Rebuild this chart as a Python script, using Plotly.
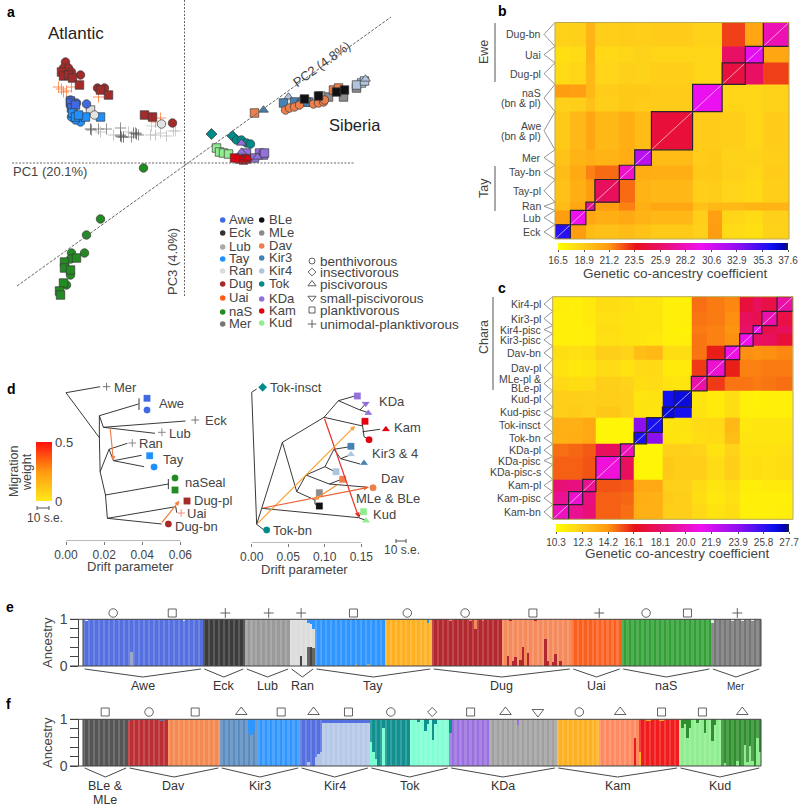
import plotly.graph_objects as go
from itertools import accumulate

W, H = 800, 806
TEXT = "#444444"
FONT = "Liberation Sans"

# ---- a: PCA scores (PC1, PC3), one list per population and feeding form
DUG_O = [(-119,101),(-121,95),(-116,95),(-113,91),(-104,88),(-87,75),(-80,75),(-12,40)]
DUG_S = [(-123,91),(-121,87),(-116,88),(-112,85),(-105,78),(-84,73),(-76,68),(-40,48),(-32,46)]
UAI_P = [(-123,74),(-121,71),(-126,76),(-86,66),(-24,45),(-29,41),(-113,76),(-118,72)]
AWE_O = [(-114,63),(-113,56),(-98,59),(-108,60),(-111,51)]
AWE_S = [(-114,62),(-114,60),(-113,55),(-109,58)]
TAY_O = [(-104,41),(-109,43),(-113,46)]
TAY_S = [(-112,50),(-109,46),(-99,46),(-84,46),(-106,48)]
RAN_O = [(-90,48),(-23,39)]
RAN_S = [(-94,53)]
RAN_P = [(-24,30),(-9,32),(-33,37)]
MER_P = [(-93,33),(-86,34),(-78,34),(-64,35),(-63,26),(-64,28),(-49,30),(-46,28),(-53,26)]
ECK_P = [(-64,27),(-61,26),(-48,29),(-51,30),(-94,34)]
LUB_P = [(-71,28),(-34,28),(-29,28),(-84,31),(-11,32),(-56,31),(-18,27)]
NAS_O = [(-41,-5),(-84,-56),(-98,-72),(-100,-90),(-113,-90),(-114,-96),(-114,-112),(-118,-122)]
NAS_S = [(-108,-95),(-120,-99),(-120,-105),(-114,-107),(-121,-120),(-125,-128),(-124,-132)]
TOK_D = [(27,29),(48,27)]
TOK_O = [(52,23),(57,23),(62,20),(66,19)]
KUD_S = [(32,15),(35,11),(39,10),(44,9)]
KDA_T = [(57,20),(57,11),(73,6)]
KDA_S = [(75,10),(79,8),(80,10),(62,10),(70,5)]
KAM_S = [(50,5),(55,4),(59,3),(62,4)]
KAM_T = [(59,3),(63,5)]
KIR3_T = [(79,53),(117,64)]
KIR3_S = [(99,60),(110,61),(122,61)]
KIR4_S = [(177,80),(172,78),(180,82),(136,67)]
KIR4_T = [(104,66),(181,84)]
DAV_S = [(70,50),(149,73),(154,75)]
DAV_O = [(101,53),(105,55),(110,56),(115,58),(129,59),(134,60),(139,61),(140,63)]
BLE_S = [(152,71),(160,73),(134,67),(120,64)]
MLE_S = [(159,66),(144,66),(124,61),(172,75)]

POPS_1 = ["Awe","Eck","Lub","Tay","Ran","Dug","Uai","naS","Mer"]
POPS_2 = ["BLe","MLe","Dav","Kir3","Kir4","Tok","KDa","Kam","Kud"]
POP_COLORS = {"Awe":"#4169e1","Eck":"#333333","Lub":"#a9a9a9","Tay":"#1e90ff","Ran":"#dcdcdc",
              "Dug":"#a52a2a","Uai":"#ff5a1a","naS":"#228b22","Mer":"#777777",
              "BLe":"#111111","MLe":"#8c8c8c","Dav":"#ee7f4b","Kir3":"#4682b4","Kir4":"#b0c4de",
              "Tok":"#008b8b","KDa":"#9370db","Kam":"#e3000f","Kud":"#90ee90"}
DIETS = ["benthivorous","insectivorous","piscivorous","small-piscivorous","planktivorous","unimodal-planktivorous"]
DIET_SYMBOLS = ["circle-open","diamond-open","triangle-up-open","triangle-down-open","square-open","cross-thin"]

# ---- b: co-ancestry, groups bottom-left to top-right
B_LABELS = ["Eck","Lub","Ran","Tay-pl","Tay-bn","Mer","Awe<br>(bn & pl)","naS<br>(bn & pl)","Dug-pl","Uai","Dug-bn"]
B_SIZES = [6,6,3.5,9.5,6,6.5,16,6,5.5,9,7,10]  # naS takes two rows, split where its shade changes
B_ROWS = list(range(12))
B_BOX_SKIP = [8]
B_LABEL_SKIP = [8]
B_TICKS = [16.5,18.9,21.2,23.5,25.9,28.2,30.6,32.9,35.3,37.6]
B_Z = [
 [35.5,21.0,19.6,19.4,19.6,19.3,19.0,18.7,21.0,18.2,18.0,18.6],
 [21.0,29.5,20.6,20.2,20.4,20.0,19.8,18.8,20.9,18.4,18.2,18.7],
 [19.6,20.6,27.0,21.0,21.6,20.2,20.6,19.4,19.8,19.8,20.0,20.0],
 [19.4,20.2,21.0,25.6,22.0,20.0,19.8,18.8,18.9,18.5,18.3,18.8],
 [19.6,20.4,21.6,22.0,28.5,20.3,20.2,19.0,19.0,18.7,18.4,18.9],
 [19.3,20.0,20.2,20.0,20.3,31.5,19.6,18.9,19.0,18.6,18.6,18.8],
 [19.0,19.8,20.6,19.8,20.2,19.6,24.6,18.9,18.9,18.8,18.4,18.9],
 [18.7,18.8,19.4,18.8,19.0,18.9,18.9,29.8,29.8,18.4,18.4,18.6],
 [21.0,20.9,19.8,18.9,19.0,19.0,18.9,29.8,29.8,18.4,18.4,18.6],
 [18.2,18.4,19.8,18.5,18.7,18.6,18.8,18.4,18.4,24.8,25.8,22.8],
 [18.0,18.2,20.0,18.3,18.4,18.6,18.4,18.4,18.4,25.8,30.0,20.6],
 [18.6,18.7,20.0,18.8,18.9,18.8,18.9,18.6,18.6,22.8,20.6,28.0],
]

# ---- c: co-ancestry, groups bottom-left to top-right
C_LABELS = ["Kam-bn","Kam-pisc","Kam-pl","KDa-pisc-s","KDa-pisc","KDa-pl","Tok-bn","Tok-insct","Kud-pisc","Kud-pl",
            "MLe-pl &<br>BLe-pl","Dav-pl","Dav-bn","Kir3-pisc","Kir4-pisc","Kir3-pl","Kir4-pl"]
C_SIZES = [7.7,6.8,6.4,7.7,4.2,6.6,6,7.7,5.5,8.5,7.6,8.7,7.1,6.5,4.2,7.4,7.7]
C_ROWS = [0,1,2,3,3,4,5,6,7,8,9,10,11,12,13,14,15]  # KDa-pisc and KDa-pisc-s share one block
C_BOX_SKIP = [4]
C_TICKS = [10.3,12.3,14.2,16.1,18.1,20.0,21.9,23.9,25.8,27.7]
C_Z = [
 [20.0,19.0,18.4,15.0,14.8,13.3,13.3,12.2,12.2,11.8,11.4,11.6,10.9,10.9,10.9,11.0],
 [19.0,20.4,18.6,15.0,14.9,13.4,13.3,12.3,12.2,11.6,11.2,11.5,10.9,10.9,10.9,10.9],
 [18.4,18.6,19.0,15.2,15.1,13.6,13.6,12.1,12.1,11.7,11.3,11.6,11.0,11.0,11.1,11.1],
 [15.0,15.0,15.2,20.6,17.8,10.7,10.7,12.4,12.2,12.2,11.7,12.2,11.5,11.6,11.5,11.6],
 [14.8,14.9,15.1,17.8,19.8,10.7,10.7,12.1,12.1,12.0,11.4,12.0,11.4,11.4,11.4,11.5],
 [13.3,13.4,13.6,10.7,10.7,26.3,24.0,11.4,11.3,11.6,11.7,12.8,11.3,11.3,11.3,11.3],
 [13.3,13.3,13.6,10.7,10.7,24.0,26.3,11.3,11.4,11.7,11.8,13.0,11.2,11.3,11.3,11.3],
 [12.2,12.3,12.1,12.4,12.1,11.4,11.3,26.8,26.4,11.4,11.1,11.6,10.9,10.9,10.9,10.9],
 [12.2,12.2,12.1,12.2,12.1,11.3,11.4,26.4,26.8,11.3,11.1,11.6,10.9,10.8,10.9,10.9],
 [11.8,11.6,11.7,12.2,12.0,11.6,11.7,11.4,11.3,19.5,15.6,14.7,14.7,14.6,14.7,14.8],
 [11.4,11.2,11.3,11.7,11.4,11.7,11.8,11.1,11.1,15.6,20.4,16.0,14.5,14.5,14.6,14.6],
 [11.6,11.5,11.6,12.2,12.0,12.8,13.0,11.6,11.6,14.7,16.0,20.8,14.3,14.2,14.3,14.4],
 [10.9,10.9,11.0,11.5,11.4,11.3,11.2,10.9,10.9,14.7,14.5,14.3,21.0,18.0,17.8,17.0],
 [10.9,10.9,11.0,11.6,11.4,11.3,11.3,10.9,10.8,14.6,14.5,14.2,18.0,21.0,17.4,17.8],
 [10.9,10.9,11.1,11.5,11.4,11.3,11.3,10.9,10.9,14.7,14.6,14.3,17.8,17.4,19.6,17.2],
 [11.0,10.9,11.1,11.6,11.5,11.3,11.3,10.9,10.9,14.8,14.6,14.4,17.0,17.8,17.2,19.4],
]

HEAT_COLORS = [[0,"#ffff00"],[0.1,"#ffd21a"],[0.22,"#ff9a10"],[0.34,"#e8101a"],[0.47,"#e8107a"],
               [0.62,"#f010f0"],[0.78,"#9010f0"],[0.93,"#1010f0"],[0.985,"#0000b0"],[1,"#222222"]]

# ---- d: drift trees, segments are (drift0, row0, drift1, row1)
D1_EDGES = [(0,52.7,.0179,46.7),(0,52.7,.0175,97.7),(.0175,97.7,.0175,75.7),(.0175,75.7,.038,64),
            (.0175,75.7,.0196,87.3),(.0196,87.3,.0627,81),(.0196,87.3,.0467,93.3),(.0175,97.7,.0179,131.7),
            (.0179,131.7,.0226,109.3),(.0226,109.3,.0322,103.3),(.0226,109.3,.0249,120.7),
            (.0249,120.7,.0397,115.3),(.0249,120.7,.041,126.7),(.0179,131.7,.0207,155),(.0207,155,.0537,144),
            (.0207,155,.0217,178.3),(.0217,178.3,.0576,166.7),(.0576,166.7,.0581,172.7),(.0217,178.3,.0502,184),
            (.0383,58.3,.0383,70),(.0537,139,.0537,149)]
D1_MIGRATION = [(.0231,87.3,.0249,120.7,"#f08050"),(.0497,184,.0595,160.7,"#f58040")]
D1_TIPS = [(.0213,46.7,"cross-thin","#777777"),(.0425,58.3,"square","#4169e1"),(.0425,70,"circle","#4169e1"),
           (.0678,80,"cross-thin","#777777"),(.0503,92.3,"cross-thin","#888888"),(.0348,103,"cross-thin","#888888"),
           (.0439,115.7,"square","#1e90ff"),(.0462,127,"circle","#1e90ff"),(.0572,138,"circle","#228b22"),
           (.0572,150,"square","#228b22"),(.0635,161,"square","#a52a2a"),(.0604,173,"cross-thin","#f59070"),
           (.0537,184,"circle","#a52a2a")]

D2_EDGES = [(.0068,184.3,0,52.3),(0,52.3,.0068,49),(.0068,184.3,.0169,190),(.0068,184.3,.0137,168.3),
            (.0137,168.3,.042,102.3),(.0137,168.3,.1464,177.7),(.1464,177.7,.1491,172.7),(.1464,177.7,.155,180),
            (.042,102.3,.099,77.3),(.099,77.3,.1186,60.7),(.1186,60.7,.1414,56),(.1186,60.7,.1482,70),
            (.1482,70,.1564,63.3),(.1482,70,.1596,72.7),(.099,77.3,.1518,86),(.1518,86,.1518,81.7),
            (.1518,81.7,.155,81.7),(.1518,86,.1537,96.7),(.1537,96.7,.1596,99.3),(.1518,91.7,.1756,89.3),
            (.042,102.3,.0616,151.7),(.0616,151.7,.0743,135),(.0616,151.7,.0866,160),(.0866,160,.0866,164),
            (.0866,164,.0926,166),(.0866,160,.0912,152.7),(.0743,135,.1003,126.7),(.1003,126.7,.1126,109.3),
            (.1126,109.3,.1345,106.7),(.1126,109.3,.1218,118.7),(.1218,118.7,.1345,115),(.1218,118.7,.1482,124),
            (.1003,126.7,.114,131.7),(.0743,135,.1062,144),(.1062,144,.1231,139.3),(.1062,144,.1596,147.3)]
D2_MIGRATION = [(.099,77.3,.1464,177.3,"#e8302a"),(.0068,184.3,.1414,86,"#f8a030"),
                (.0137,168.3,.1596,147.3,"#f06030"),(.1186,144,.0853,160,"#f59030")]
D2_TIPS = [(.015,47.3,"diamond","#008b8b"),(.0205,190,"circle","#008b8b"),(.1446,56,"square","#9370db"),
           (.156,63.7,"triangle-down","#9370db"),(.1596,73,"triangle-up","#9370db"),(.155,81.3,"square","#e3000f"),
           (.1836,89.3,"triangle-up","#e3000f"),(.1606,99.7,"circle","#e3000f"),(.1358,106.3,"square","#4682b4"),
           (.1358,114.3,"triangle-up","#b0c4de"),(.1537,123,"triangle-up","#4682b4"),(.1154,131.7,"square","#b0c4de"),
           (.1245,139.3,"square","#ee7f4b"),(.166,147.7,"circle","#ee7f4b"),(.0926,152.7,"square","#8c8c8c"),
           (.0926,166,"square","#111111"),(.153,171.7,"square","#90ee90"),(.1564,180.7,"triangle-up","#90ee90")]

# ---- e, f: ancestry bars, counts per colour block and the bars that differ
E_COUNTS = [48,17,18,10,28,19,28,28,20,36,20]
E_COLORS = ["#5470e0","#3c3c3c","#9a9a9a","#dcdcdc","#2f96ff","#ffb020","#b2282e","#f58a5a","#fb5f1e","#33a035","#777777"]
E_LOW = [(19,.3,"#9aa8cc"),(87,.2,"#444444"),(90,.4,"#666666"),(91,.4,"#444444"),(92,.38,"#666666"),
         (109,.03,"#bbaa66"),(114,.03,"#bbaa66"),(170,.2,"#b2282e"),(172,.1,"#b2282e"),(173,.18,"#b2282e"),
         (175,.13,"#b2282e"),(176,.4,"#b2282e"),(178,.28,"#b2282e"),(185,.58,"#b2282e"),(186,.1,"#b2282e"),
         (188,.07,"#b2282e"),(189,.25,"#b2282e"),(191,.1,"#b2282e")]
E_HIGH = [(1,.03,"#dde4ff"),(40,.03,"#dde4ff"),(90,.08,"#2f96ff"),(91,.1,"#2f96ff"),(92,.22,"#2f96ff"),
          (138,.08,"#2f96ff"),(147,.03,"#f58a5a"),(157,.22,"#f58a5a"),(155,.03,"#f58a5a"),(160,.04,"#f58a5a"),
          (171,.03,"#b2282e"),(181,.04,"#b2282e"),(252,.08,"#e8e8e8"),(260,.04,"#e8e8e8"),(264,.04,"#e8e8e8"),(268,.04,"#e8e8e8")]
E_GROUPS = ["Awe","Eck","Lub","Ran","Tay","Dug","Uai","naS","Mer"]
E_GROUP_N = [48,17,18,10,47,56,20,36,20]
E_SYMBOL_X = [11.6,35.3,56.6,74,87,108,129.6,152.8,180,206.6,225.4,242,262]
E_SYMBOLS = ["circle-open","square-open","cross-thin","cross-thin","cross-thin","square-open","circle-open",
             "circle-open","square-open","cross-thin","circle-open","square-open","cross-thin"]

F_COUNTS = [18,16,21,15,17,9,19,16,16,16,27,17,16,16,17,16]
F_COLORS = ["#555555","#bb2e33","#f58a50","#5a8cbf","#2f96ff","#5470e0","#b3c7e8","#119090","#7fffd4",
            "#9a70e0","#a0a0a0","#ffb020","#ff8a60","#f01c1c","#90ee90","#2f8f2f"]
F_LOW = [(90,.07,"#b3c7e8"),(93,.18,"#b3c7e8"),(94,.25,"#b3c7e8"),(95,.3,"#b3c7e8"),(115,.5,"#7fffd4"),
         (116,.3,"#7fffd4"),(117,.15,"#7fffd4"),(120,.8,"#7fffd4"),(221,.6,"#e81c1c"),(223,.3,"#ffb020"),
         (257,.05,"#90ee90"),(262,.1,"#90ee90"),(265,.45,"#90ee90"),(266,.08,"#90ee90"),(267,.42,"#90ee90"),
         (268,.1,"#90ee90"),(270,.6,"#90ee90"),(271,.3,"#90ee90")]
F_HIGH = [(18,.04,"#4682b4"),(31,.05,"#4682b4"),(66,.3,"#2f96ff"),(67,.35,"#2f96ff"),(68,.25,"#2f96ff"),
          (134,.07,"#119090"),(137,.25,"#119090"),(138,.1,"#119090"),(140,.45,"#119090"),(141,.1,"#119090"),(147,.3,"#119090"),
          (174,.12,"#9a70e0"),(226,.04,"#ffb020"),(227,.04,"#ffb020"),(231,.04,"#ffb020"),(232,.04,"#ffb020"),
          (240,.2,"#2f8f2f"),(241,.1,"#2f8f2f"),(242,.4,"#2f8f2f"),(243,.2,"#2f8f2f"),(246,.08,"#2f8f2f"),
          (249,.3,"#2f8f2f"),(252,.48,"#2f8f2f"),(253,.12,"#2f8f2f")]
F_HIGH += [(i, .09, "#5470e0") for i in [96,97,98,99,100,101,102,103,104,105,106,107,108,109,110,111,112,113,114]]
F_GROUPS = ["BLe &<br>MLe","Dav","Kir3","Kir4","Tok","KDa","Kam","Kud"]
F_GROUP_N = [18,37,32,28,32,43,49,33]
F_SYMBOL_X = [8.4,26,44.5,63,79,92,106,123,139.6,155,169,182,198.6,215,231.6,248,264]
F_SYMBOLS = ["square-open","circle-open","square-open","triangle-up-open","square-open","triangle-up-open","square-open",
             "circle-open","diamond-open","square-open","triangle-up-open","triangle-down-open","circle-open",
             "triangle-up-open","square-open","square-open","triangle-up-open"]
SYMBOL_SIZES = {"cross-thin": 7, "circle-open": 8.5, "square-open": 8, "diamond-open": 7,
                "triangle-up-open": 10, "triangle-down-open": 10}


def dom_x(a, b):
    return [a / W, b / W]


def dom_y(top, bot):
    return [1 - bot / H, 1 - top / H]


def lighter(col, amount=0.16):
    vals = [int(col[i:i + 2], 16) for i in (1, 3, 5)]
    return "#" + "".join(f"{int(v + (255 - v) * amount):02x}" for v in vals)


fig = go.Figure()
layout = dict(width=W, height=H, margin=dict(l=0, r=0, t=0, b=0, autoexpand=False), paper_bgcolor="white",
              plot_bgcolor="rgba(0,0,0,0)", showlegend=False, font=dict(family=FONT, color=TEXT, size=12),
              bargap=0, barmode="stack")
hidden = dict(visible=False, fixedrange=True)
shapes = []
notes = []


def text(x, y, s, size=12.5, anchor="left", color=TEXT, angle=0, bold=False):
    if bold:
        s = "<b>" + s + "</b>"
    notes.append(dict(x=x, y=y, xref="x9", yref="y9", text=s, showarrow=False, xanchor=anchor, yanchor="middle",
                      font=dict(size=size, color=color, family=FONT), textangle=angle, align=anchor, borderpad=0))


def px_line(points, color="#555555", width=0.9, dash=None):
    path = "M" + " L".join(f"{x} {y}" for x, y in points)
    shapes.append(dict(type="path", path=path, xref="x9", yref="y9", line=dict(color=color, width=width, dash=dash),
                       layer="above"))


# ---- panel a
layout["xaxis"] = dict(domain=dom_x(0, 470), range=[-184.5, 285.5], **hidden)
layout["yaxis"] = dict(domain=dom_y(0, 350), range=[-187, 163], **hidden)
PCA_LAYERS = [(MER_P,"cross-thin","#777777"),(ECK_P,"cross-thin","#555555"),(LUB_P,"cross-thin","#bbbbbb"),
              (RAN_P,"cross-thin","#c4c4c4"),(UAI_P,"cross-thin","#ff7a3a"),
              (DUG_O,"circle","#a52a2a"),(DUG_S,"square","#a52a2a"),(RAN_S,"square","#dcdcdc"),(AWE_O,"circle","#4169e1"),
              (AWE_S,"square","#4169e1"),(TAY_O,"circle","#1e90ff"),(TAY_S,"square","#1e90ff"),(RAN_O,"circle","#e4e4e4"),
              (NAS_O,"circle","#228b22"),(NAS_S,"square","#228b22"),(TOK_D,"diamond","#008b8b"),(TOK_O,"circle","#008b8b"),
              (KUD_S,"square","#90ee90"),(KDA_S,"square","#9370db"),(KDA_T,"triangle-up","#9370db"),
              (KAM_S,"square","#e3000f"),(KAM_T,"triangle-up","#e3000f"),(MLE_S,"square","#8c8c8c"),
              (KIR4_S,"square","#b0c4de"),(KIR4_T,"triangle-up","#b0c4de"),(KIR3_S,"square","#4682b4"),
              (KIR3_T,"triangle-up","#4682b4"),(DAV_S,"square","#ee7f4b"),(DAV_O,"circle","#ee7f4b"),(BLE_S,"square","#111111")]
px_line([(12, 163), (355, 163)], "#666666", 1, "2px 1.5px")
px_line([(184.5, 0), (184.5, 296)], "#666666", 1, "2px 1.5px")
px_line([(17, 286), (391, 17)], "#666666", 1, "3px 1.5px")
for pts, sym, col in PCA_LAYERS:
    plus = sym == "cross-thin"
    fig.add_trace(go.Scatter(x=[p[0] for p in pts], y=[p[1] for p in pts], mode="markers", xaxis="x", yaxis="y",
                             marker=dict(symbol=sym, size=8 if plus else 8.5, color=col,
                                         line=dict(color=col if plus else "#3a3a3a", width=0.8 if plus else 0.7))))
text(76, 33, "Atlantic", 17, "center", "#222222")
text(355, 125, "Siberia", 16.5, "center", "#222222")
text(12, 171, "PC1 (20.1%)", 13)
text(172, 262, "PC3 (4.0%)", 13, "center", angle=-90)
text(321, 64, "PC2 (4.8%)", 13, "center", angle=-36)

# legend of panel a
LEG_ROWS_1 = [220, 233, 247, 259, 271, 284, 298, 312, 324]
LEG_ROWS_2 = [220, 233, 246, 258, 271, 284, 299, 311, 323]
LEG_ROWS_3 = [261, 272, 284, 298, 310, 324]
layout["xaxis9"] = dict(domain=[0, 1], range=[0, W], **hidden)
layout["yaxis9"] = dict(domain=[0, 1], range=[H, 0], **hidden)
fig.add_trace(go.Scatter(x=[222.7] * 9 + [261.7] * 9, y=LEG_ROWS_1 + LEG_ROWS_2, mode="markers", xaxis="x9", yaxis="y9",
                         marker=dict(size=5.5, color=[POP_COLORS[p] for p in POPS_1 + POPS_2])))
for p, y in zip(POPS_1, LEG_ROWS_1):
    text(228, y - 0.5, p, 13)
for p, y in zip(POPS_2, LEG_ROWS_2):
    text(268, y - 0.5, p, 13)
fig.add_trace(go.Scatter(x=[312] * 6, y=LEG_ROWS_3, mode="markers", xaxis="x9", yaxis="y9",
                         marker=dict(size=[6, 6, 7, 7, 6, 6], symbol=DIET_SYMBOLS, color="#222222", line=dict(color="#222222", width=1))))
for d, y in zip(DIETS, LEG_ROWS_3):
    text(319, y, d, 13.5)


# ---- panels b and c
def heat_panel(z, rows, sizes, labels, ticks, box_skip, label_skip, ax, left, right, top, bot, bar, title_xy, apex, spacing):
    edges = [0] + list(accumulate(sizes))
    total = edges[-1]
    cells = [[z[i][j] for j in rows] for i in rows]
    fig.add_trace(go.Heatmap(z=cells, x=edges, y=edges, colorscale=HEAT_COLORS, zmin=ticks[0], zmax=ticks[-1],
                             xaxis="x" + ax, yaxis="y" + ax, showscale=True,
                             colorbar=dict(orientation="h", x=bar[0] / W, xanchor="left", xref="paper", yref="paper",
                                           y=1 - bar[2] / H, yanchor="top", lenmode="pixels", len=bar[1] - bar[0],
                                           thicknessmode="pixels", thickness=bar[3] - bar[2], xpad=0, ypad=0,
                                           outlinewidth=0, tickvals=ticks, ticktext=[f"{t:.1f}" for t in ticks],
                                           ticks="outside", ticklen=2, tickcolor="#555555",
                                           tickfont=dict(size=10, color=TEXT, family=FONT))))
    layout["xaxis" + ax] = dict(domain=dom_x(left, right), range=[0, total], **hidden)
    layout["yaxis" + ax] = dict(domain=dom_y(top, bot), range=[0, total], **hidden)
    fig.add_trace(go.Scatter(x=[0, total], y=[0, total], mode="lines", xaxis="x" + ax, yaxis="y" + ax,
                             line=dict(color="rgba(255,255,255,0.75)", width=0.8)))
    box_edges = [e for i, e in enumerate(edges) if i not in box_skip]
    for a, b in zip(box_edges[:-1], box_edges[1:]):
        fig.add_trace(go.Scatter(x=[a, b, b, a, a], y=[a, a, b, b, a], mode="lines", xaxis="x" + ax, yaxis="y" + ax,
                                 line=dict(color="#2a2030", width=1.2)))
    sy = (bot - top) / total
    label_edges = [e for i, e in enumerate(edges) if i not in label_skip]
    for a, b, lab in zip(label_edges[:-1], label_edges[1:], labels):
        y0, y1 = bot - a * sy, bot - b * sy
        ym = (y0 + y1) / 2
        px_line([(left, y0), (apex, ym), (left, y1)], "#888888", 0.9)
        lines = lab.split("<br>")
        for k, part in enumerate(lines):
            text(apex - 2, ym + (k - (len(lines) - 1) / 2) * spacing, part, 10.5, "right")
    shapes.append(dict(type="rect", x0=left, x1=right, y0=top, y1=bot, xref="x9", yref="y9",
                       line=dict(color="#b8a850", width=1)))
    text(title_xy[0], title_xy[1], "Genetic co-ancestry coefficient", 13.5, "center")


heat_panel(B_Z, B_ROWS, B_SIZES, B_LABELS, B_TICKS, B_BOX_SKIP, B_LABEL_SKIP, "2", 555, 789, 22.5, 239, (558, 788, 243, 250), (675, 273), 544, 10.5)
heat_panel(C_Z, C_ROWS, C_SIZES, C_LABELS, C_TICKS, C_BOX_SKIP, [], "3", 552.7, 793, 296.7, 519.3, (556, 789, 523.5, 531), (677, 553), 544, 9)
px_line([(495, 23), (495, 82)], "#555555", 1)
px_line([(495, 166), (495, 211)], "#555555", 1)
px_line([(493, 297), (493, 390)], "#555555", 1)
text(484, 52, "Ewe", 12.5, "center", angle=-90)
text(484, 188, "Tay", 12.5, "center", angle=-90)
text(484, 337, "Chara", 12.5, "center", angle=-90)


# ---- panel d
def tree_panel(edges, migration, tips, ax, left, right, top, bot, x_range, ticks):
    layout["xaxis" + ax] = dict(domain=dom_x(left, right), range=x_range, anchor="y" + ax, tickvals=ticks,
                                ticktext=[f"{t:.2f}" for t in ticks], ticks="outside", ticklen=3, tickcolor="#777777",
                                showline=False, showgrid=False, zeroline=False,
                                tickfont=dict(size=12, color=TEXT, family=FONT), fixedrange=True)
    layout["yaxis" + ax] = dict(domain=dom_y(top, bot), range=[bot - top, 0], **hidden)
    shapes.append(dict(type="line", x0=ticks[0], x1=ticks[-1], y0=bot - top, y1=bot - top, xref="x" + ax, yref="y" + ax,
                       line=dict(color="#777777", width=1)))
    xs, ys = [], []
    for x0, y0, x1, y1 in edges:
        xs += [x0, x1, None]
        ys += [y0, y1, None]
    fig.add_trace(go.Scatter(x=xs, y=ys, mode="lines", xaxis="x" + ax, yaxis="y" + ax,
                             line=dict(color="#222222", width=0.9)))
    for x0, y0, x1, y1, col in migration:
        notes.append(dict(x=x1, y=y1, ax=x0, ay=y0, xref="x" + ax, yref="y" + ax, axref="x" + ax, ayref="y" + ax,
                          text="", showarrow=True, arrowhead=2, arrowsize=0.8, arrowwidth=1.2, arrowcolor=col))
    for x, y, sym, col in tips:
        plus = sym == "cross-thin"
        fig.add_trace(go.Scatter(x=[x], y=[y], mode="markers", xaxis="x" + ax, yaxis="y" + ax,
                                 marker=dict(symbol=sym, size=5.5 if plus else 6.5, color=col, line=dict(color=col, width=1 if plus else 0.3))))


tree_panel(D1_EDGES, D1_MIGRATION, D1_TIPS, "4", 36, 240, 340, 541, [-0.01575, 0.0913], [0, 0.02, 0.04, 0.06])
tree_panel(D2_EDGES, D2_MIGRATION, D2_TIPS, "5", 240, 420, 340, 543, [-0.016, 0.2303], [0, 0.05, 0.10, 0.15])
for x, y, s in [(113, 387, "Mer"), (158, 403, "Awe"), (204, 420, "Eck"), (168, 433, "Lub"), (138, 443, "Ran"), (162, 459, "Tay"),
                (184, 482, "naSeal"), (192.5, 500, "Dug-pl"), (186, 513, "Uai"), (174, 526, "Dug-bn"), (269, 387, "Tok-insct"),
                (378, 401, "KDa"), (393, 427, "Kam"), (371, 453, "Kir3 & 4"), (380, 478, "Dav"), (355, 498, "MLe & BLe"),
                (372, 514, "Kud"), (272, 530, "Tok-bn")]:
    text(x, y, s, 13)
text(130, 566, "Drift parameter", 13, "center")
text(304, 569, "Drift parameter", 13, "center")
text(45, 518, "10 s.e.", 12, "center")
text(402, 550, "10 s.e.", 12, "center")
px_line([(37, 506), (37, 510)], "#444444", 0.9)
px_line([(37, 508), (49, 508)], "#444444", 0.9)
px_line([(49, 506), (49, 510)], "#444444", 0.9)
px_line([(396, 539), (396, 543)], "#444444", 0.9)
px_line([(396, 541), (406, 541)], "#444444", 0.9)
px_line([(406, 539), (406, 543)], "#444444", 0.9)
# migration colour scale
fig.add_trace(go.Scatter(x=[0.01], y=[10], mode="markers", xaxis="x4", yaxis="y4", opacity=0,
                         marker=dict(color=[0.25], cmin=0, cmax=0.5, size=1,
                                     colorscale=[[0, "#ffe81a"], [0.5, "#ff9a10"], [1, "#ff1010"]],
                                     showscale=True,
                                     colorbar=dict(x=36 / W, xanchor="left", y=1 - 442 / H, yanchor="top", lenmode="pixels", len=59,
                                                   thicknessmode="pixels", thickness=16, xpad=0, ypad=0, outlinewidth=0,
                                                   tickvals=[0, 0.5], ticktext=["0", "0.5"], ticks="",
                                                   tickfont=dict(size=13, color=TEXT, family=FONT)))))
text(14, 472, "Migration", 12.5, "center", angle=-90)
text(27, 472, "weight", 12.5, "center", angle=-90)


# ---- panels e and f
def ancestry_panel(counts, colors, low, high, groups, group_n, sym_x, syms, ax, top, bot, sym_py, br0, br1, lab_py, title_y):
    main_col = []
    for c_n, c in zip(counts, colors):
        main_col += [c if k % 2 else lighter(c) for k in range(c_n)]
    n = len(main_col)
    low_h, low_c = [0] * n, ["#000000"] * n
    high_h, high_c = [0] * n, ["#000000"] * n
    for i, v, c in low:
        low_h[i], low_c[i] = v, c
    for i, v, c in high:
        high_h[i], high_c[i] = v, c
    ids = list(range(n))
    main_h = [1 - a - b for a, b in zip(low_h, high_h)]
    for h, c in [(low_h, low_c), (main_h, main_col), (high_h, high_c)]:
        fig.add_trace(go.Bar(x=ids, y=h, marker=dict(color=c, line=dict(width=0)), xaxis="x" + ax, yaxis="y" + ax))
    layout["xaxis" + ax] = dict(domain=dom_x(83, 761), range=[-0.5, n - 0.5], anchor="y" + ax, visible=False, fixedrange=True)
    layout["yaxis" + ax] = dict(domain=dom_y(top, bot), range=[0, 1], anchor="free", position=78.3 / W, tickvals=[0, .2, .4, .6, .8, 1],
                                ticktext=["0", "", "", "", "", "1"], ticks="outside", ticklen=8, tickcolor="#444444",
                                showline=True, linecolor="#444444", linewidth=1, showgrid=False, zeroline=False,
                                tickfont=dict(size=14, color=TEXT, family=FONT), fixedrange=True)
    shapes.append(dict(type="rect", x0=83, x1=761, y0=top, y1=bot, xref="x9", yref="y9", line=dict(color="#444444", width=1)))
    shapes.append(dict(type="line", x0=70, x1=83, y0=bot, y1=bot, xref="x9", yref="y9", line=dict(color="#444444", width=1)))
    shapes.append(dict(type="line", x0=70, x1=83, y0=top, y1=top, xref="x9", yref="y9", line=dict(color="#444444", width=1)))
    fig.add_trace(go.Scatter(x=sym_x, y=[sym_py] * len(sym_x), mode="markers", xaxis="x" + ax, yaxis="y9",
                             marker=dict(symbol=syms, size=[SYMBOL_SIZES[s] for s in syms], color="#222222",
                                         line=dict(color="#222222", width=1))))
    edges = [0] + list(accumulate(group_n))
    xs, ys = [], []
    for a, b, lab in zip(edges[:-1], edges[1:], groups):
        m = (a + b) / 2 - 0.5
        xs += [a + 0.2, m, b - 1.2, None]
        ys += [br0, br1, br0, None]
        lines = lab.split("<br>")
        for k, part in enumerate(lines):
            notes.append(dict(x=m, y=lab_py + k * 14, xref="x" + ax, yref="y9", text=part, showarrow=False, yanchor="middle",
                              font=dict(size=10 if lab == "Mer" else 12.5, color="#333333", family=FONT)))
    fig.add_trace(go.Scatter(x=xs, y=ys, mode="lines", xaxis="x" + ax, yaxis="y9",
                             line=dict(color="#333333", width=0.9)))
    text(47, title_y, "Ancestry", 13, "center", angle=-90)


ancestry_panel(E_COUNTS, E_COLORS, E_LOW, E_HIGH, E_GROUPS, E_GROUP_N, E_SYMBOL_X, E_SYMBOLS, "6", 619.3, 666, 613, 669, 677, 686, 643)
ancestry_panel(F_COUNTS, F_COLORS, F_LOW, F_HIGH, F_GROUPS, F_GROUP_N, F_SYMBOL_X, F_SYMBOLS, "7", 719.3, 766, 712, 768, 777, 786, 743)

for x, y, s in [(6, 12, "a"), (497, 11, "b"), (497, 288, "c"), (6, 389, "d"), (5, 607, "e"), (5, 704, "f")]:
    text(x, y, s, 14, "left", "#000000", bold=True)

layout["shapes"] = shapes
layout["annotations"] = notes
fig.update_layout(**layout)
fig.write_html("out.html", default_width=f"{W}px", default_height=f"{H}px", config={"displayModeBar": False},
               post_script="document.body.style.margin='0';document.documentElement.style.overflow='hidden';")
